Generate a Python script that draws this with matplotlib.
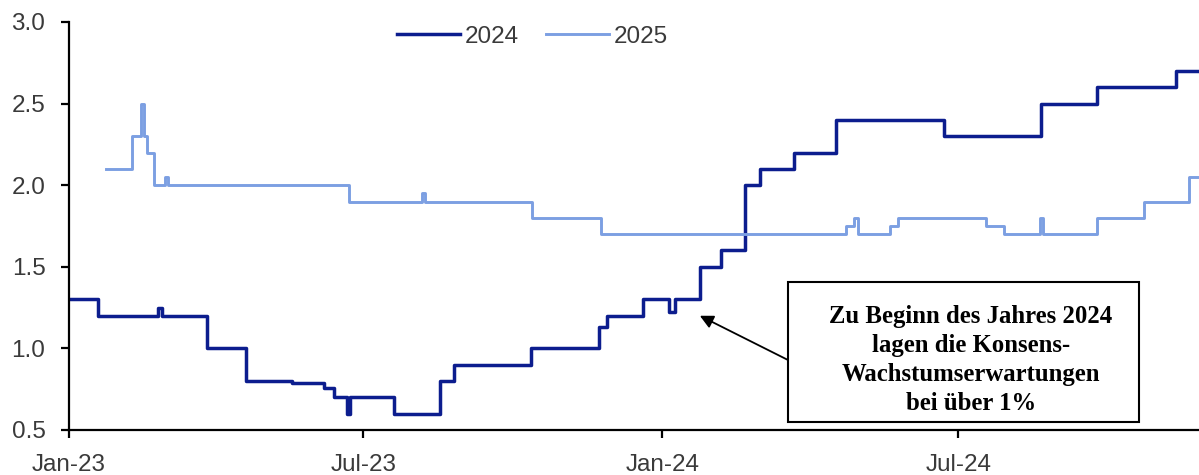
import numpy as np
import matplotlib
matplotlib.use('Agg')
import matplotlib.pyplot as plt
from matplotlib.patches import Rectangle

# consensus growth expectations, change points (date, value in %)
dates_2024 = ['2023-01-01', '2023-01-19', '2023-02-25', '2023-02-27', '2023-03-27',
              '2023-04-20', '2023-05-18', '2023-06-07', '2023-06-13', '2023-06-21',
              '2023-06-23', '2023-07-20', '2023-08-17', '2023-08-26', '2023-10-12',
              '2023-11-23', '2023-11-28', '2023-12-20', '2024-01-05', '2024-01-09',
              '2024-01-24', '2024-02-06', '2024-02-21', '2024-03-01', '2024-03-22',
              '2024-04-17', '2024-06-22', '2024-08-21', '2024-09-24', '2024-11-12',
              '2024-11-30']
values_2024 = [1.3, 1.2, 1.25, 1.2, 1.0,
               0.8, 0.79, 0.76, 0.7, 0.6,
               0.7, 0.6, 0.8, 0.9, 1.0,
               1.13, 1.2, 1.3, 1.22, 1.3,
               1.5, 1.6, 2.0, 2.1, 2.2,
               2.4, 2.3, 2.5, 2.6, 2.7,
               2.7]

dates_2025 = ['2023-01-24', '2023-02-09', '2023-02-14', '2023-02-16', '2023-02-18',
              '2023-02-22', '2023-03-01', '2023-03-03', '2023-06-22', '2023-08-06',
              '2023-08-08', '2023-10-13', '2023-11-24', '2024-04-23', '2024-04-28',
              '2024-04-30', '2024-05-20', '2024-05-25', '2024-07-18', '2024-07-29',
              '2024-08-20', '2024-08-22', '2024-09-24', '2024-10-23', '2024-11-20',
              '2024-11-30']
values_2025 = [2.1, 2.3, 2.5, 2.3, 2.2,
               2.0, 2.05, 2.0, 1.9, 1.95,
               1.9, 1.8, 1.7, 1.75, 1.8,
               1.7, 1.75, 1.8, 1.75, 1.7,
               1.8, 1.7, 1.8, 1.9, 2.05,
               2.05]

tick_dates = ['2023-01-01', '2023-07-01', '2024-01-01', '2024-07-01']
tick_labels = ['Jan-23', 'Jul-23', 'Jan-24', 'Jul-24']
y_ticks = [0.5, 1.0, 1.5, 2.0, 2.5, 3.0]

note = 'Zu Beginn des Jahres 2024\nlagen die Konsens-\nWachstumserwartungen\nbei über 1%'

DARK = '#0c1d8e'
LIGHT = '#7c9fe2'
TXT = '#3a3a3a'
W, H = 1199, 475

plt.rcParams['font.family'] = ['Liberation Sans', 'DejaVu Sans']

fig = plt.figure(figsize=(W/100, H/100), dpi=100)
ax = fig.add_axes([69/W, 45/H, (W-69)/W, 408/H])

d24 = np.array(dates_2024, dtype='datetime64[D]')
d25 = np.array(dates_2025, dtype='datetime64[D]')
ax.plot(d24, values_2024, drawstyle='steps-post', color=DARK, lw=2.5, label='2024')
ax.plot(d25, values_2025, drawstyle='steps-post', color=LIGHT, lw=2.1, label='2025')

ax.set_xlim(np.datetime64('2023-01-01'), np.datetime64('2024-11-26'))
ax.set_ylim(0.5, 3.0)
ax.set_yticks(y_ticks)
ax.set_yticklabels(['%.1f' % v for v in y_ticks])
ax.set_xticks(np.array(tick_dates, dtype='datetime64[D]'))
ax.set_xticklabels(tick_labels)

for s in ['top', 'right']:
    ax.spines[s].set_visible(False)
for s in ['left', 'bottom']:
    ax.spines[s].set_linewidth(1.6)
    ax.spines[s].set_color('black')
ax.tick_params(axis='both', length=6, width=1.6, colors='black',
               labelcolor=TXT, labelsize=17.5)
ax.tick_params(axis='x', pad=11)
ax.tick_params(axis='y', pad=11)

ax.legend(loc='upper center', bbox_to_anchor=(0.41, 1.045), ncol=2, frameon=False,
          fontsize=17.5, handlelength=2.6, handletextpad=0.2, columnspacing=1.1,
          labelcolor=TXT)

# annotation box
fig.patches.append(Rectangle((788/W, (H-422)/H), 351/W, 140/H,
                             transform=fig.transFigure, fill=True,
                             facecolor='white', edgecolor='black', lw=1.5, zorder=5))
fig.text(971/W, (H-360)/H, note, ha='center', va='center',
         family=['Liberation Serif', 'DejaVu Serif'], fontweight='bold',
         fontsize=17.8, linespacing=1.35, color='black', zorder=6)
ax.annotate('', xy=(np.datetime64('2024-01-24'), 1.2),
            xytext=(788/W, (H-360)/H), textcoords='figure fraction',
            arrowprops=dict(arrowstyle='-|>', color='black', lw=1.3,
                            mutation_scale=20, shrinkA=0, shrinkB=0))

fig.savefig('out.png', dpi=100)
